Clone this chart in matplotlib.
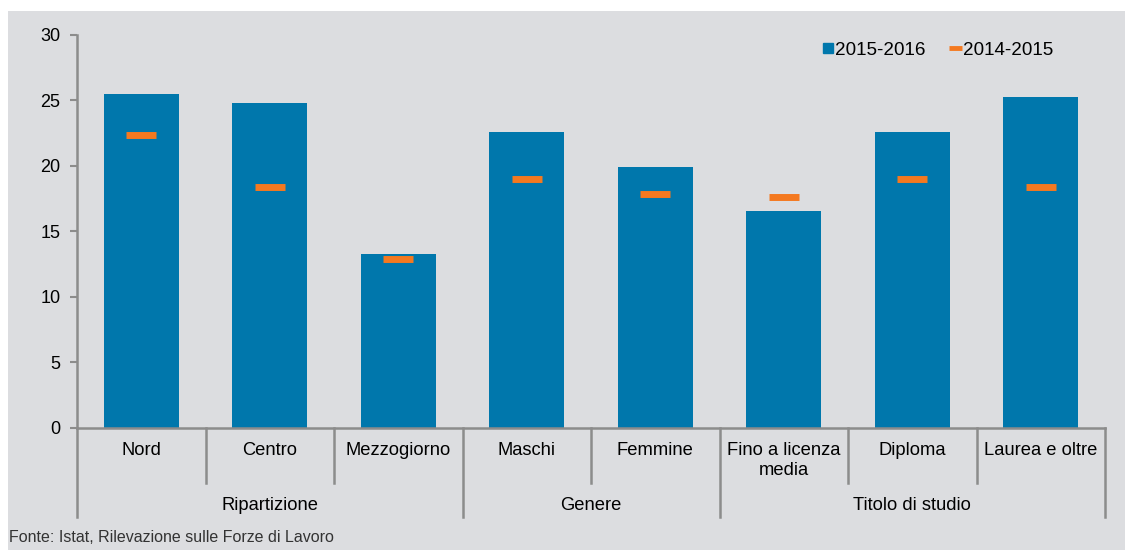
import numpy as np
import matplotlib.pyplot as plt
from matplotlib.patches import Rectangle
from matplotlib.lines import Line2D
import matplotlib.transforms as mtransforms

# dati
categorie = ['Nord', 'Centro', 'Mezzogiorno', 'Maschi', 'Femmine',
             'Fino a licenza\nmedia', 'Diploma', 'Laurea e oltre']
gruppi = ['Ripartizione', 'Genere', 'Titolo di studio']
gruppi_n = [3, 2, 3]
val_2015_2016 = [25.5, 24.8, 13.3, 22.55, 19.9, 16.55, 22.6, 25.25]
val_2014_2015 = [22.3, 18.4, 12.9, 18.95, 17.85, 17.6, 19.0, 18.35]

blu = '#0077ac'
arancio = '#f47920'
grigio_sfondo = '#dcdde0'
grigio_assi = '#8c8c8c'

plt.rcParams['font.family'] = ['Liberation Sans', 'DejaVu Sans']

fig = plt.figure(figsize=(11.27, 5.5), dpi=100, facecolor='white')
# sfondo grigio
fig.patches.append(Rectangle((8/1127, 0), (1125-8)/1127, (550-11)/550,
                             transform=fig.transFigure, facecolor=grigio_sfondo,
                             edgecolor='none', zorder=-10))

ax = fig.add_axes([77/1127, (550-428)/550, (1105-77)/1127, (428-34.5)/550])
ax.set_facecolor('none')

x = np.arange(len(categorie))
ax.bar(x, val_2015_2016, width=0.58, color=blu, zorder=2)
ax.plot(x, val_2014_2015, linestyle='none', marker='_', markersize=21,
        markeredgewidth=5, color=arancio, zorder=3)

ax.set_xlim(-0.5, len(categorie) - 0.5)
ax.set_ylim(0, 30)
ax.set_yticks(np.arange(0, 31, 5))
ax.tick_params(axis='y', direction='out', length=5, width=1.5, color=grigio_assi,
               labelsize=13, pad=7)
ax.set_xticks([])

for s in ['top', 'right']:
    ax.spines[s].set_visible(False)
for s in ['left', 'bottom']:
    ax.spines[s].set_color(grigio_assi)
    ax.spines[s].set_linewidth(1.8)

# etichette categorie e separatori
trans = mtransforms.blended_transform_factory(ax.transData, ax.transAxes)
ax_h = 428 - 34.5
y_cat = -(483 - 428) / ax_h
y_grp = -(517 - 428) / ax_h
for i, c in enumerate(categorie):
    ax.text(i, -(442 - 428) / ax_h, c, transform=trans, ha='center', va='top',
            fontsize=13.2, linespacing=1.25)

bordi = np.cumsum([0] + gruppi_n) - 0.5
for b in np.arange(-0.5, len(categorie), 1.0):
    y_fine = y_grp if b in bordi else y_cat
    ax.plot([b, b], [0, y_fine], transform=trans, color=grigio_assi, lw=1.8,
            clip_on=False)

for g, a, b in zip(gruppi, bordi[:-1], bordi[1:]):
    ax.text((a + b) / 2, -(505 - 428) / ax_h, g, transform=trans, ha='center',
            va='center', fontsize=13.2)

# legenda
maniglie = [Line2D([], [], linestyle='none', marker='s', markersize=7.2,
                   color=blu),
            Line2D([], [], color=arancio, lw=3.5, solid_capstyle='butt')]
ax.legend(maniglie, ['2015-2016', '2014-2015'], ncol=2, frameon=False,
          loc='upper right', bbox_to_anchor=(0.966, 1.025), fontsize=13.6,
          handlelength=0.7, handletextpad=0.05, columnspacing=1.2)

fig.text(9/1127, 1 - 537/550, 'Fonte: Istat, Rilevazione sulle Forze di Lavoro',
         fontsize=11.5, va='center', ha='left', color='#333333',
         family=['Liberation Sans Narrow', 'Liberation Sans', 'DejaVu Sans'])

plt.savefig('out.png', dpi=100, facecolor=fig.get_facecolor())
